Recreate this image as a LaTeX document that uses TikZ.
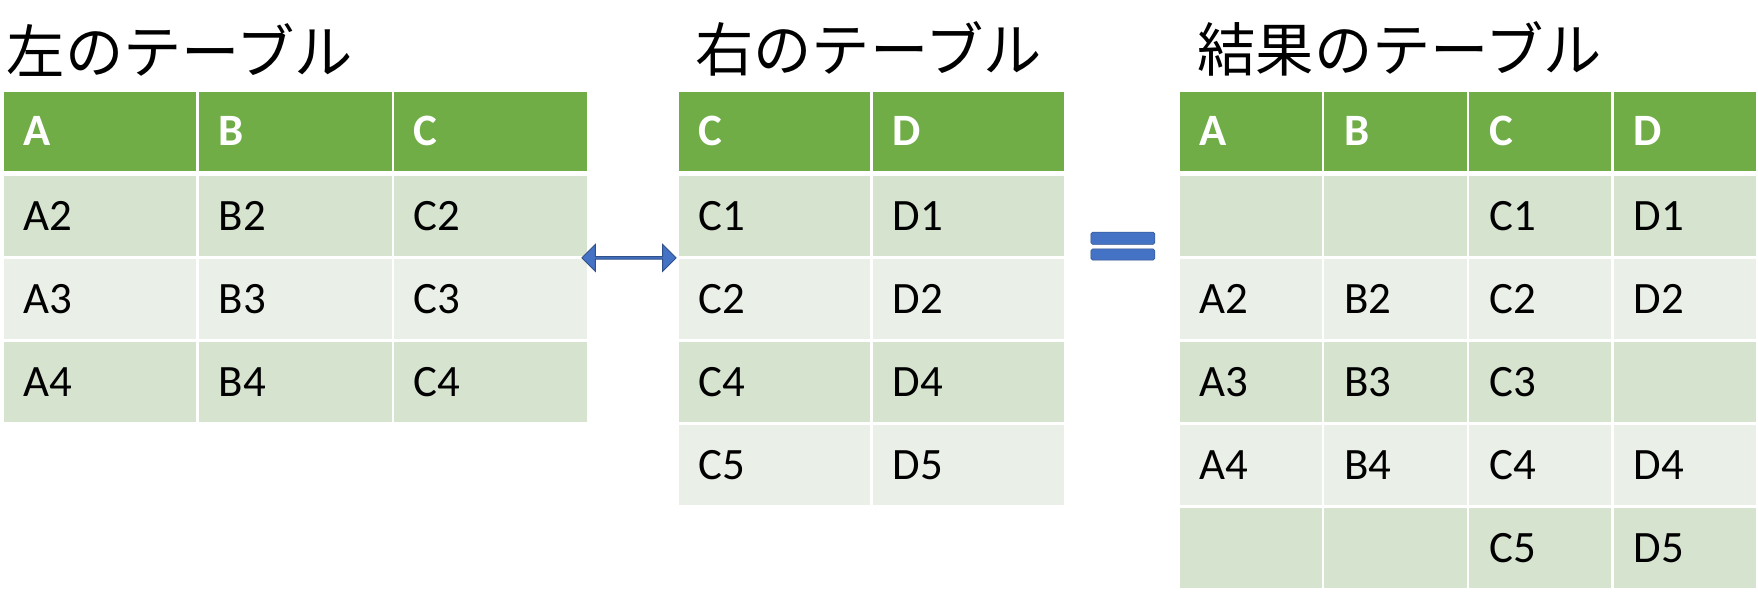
\documentclass[tikz,border=0pt]{standalone}
\usepackage{fontspec}
\setmainfont{Carlito}
\newfontfamily\jpfont{Noto Sans CJK JP}[Scale=1]
\usetikzlibrary{shapes.arrows}
\definecolor{hdgreen}{HTML}{70AD47}
\definecolor{rowdark}{HTML}{D5E3CF}
\definecolor{rowlight}{HTML}{EAF0E7}
\definecolor{arrblue}{HTML}{4472C4}
\tikzset{
  cell/.style 2 args={anchor=north west, inner sep=0pt, inner xsep=18pt,
    minimum width=#1, text width=#1-36pt, minimum height=#2, align=left,
    font=\fontsize{40}{44}\selectfont},
  head/.style={fill=hdgreen, text=white, font=\fontsize{40}{44}\selectfont\bfseries},
  ttl/.style={anchor=south west, inner sep=0pt, font=\jpfont\fontsize{52}{56}\selectfont},
}
% one table: #1 name, #2 left x, #3 cell width, #4 header list, #5 rows
\newcommand{\jtable}[5]{%
  \foreach \t [count=\c from 0] in {#4}
    \node[cell={#3pt}{70pt}, head] (#1-0-\c) at ({#2+\c*(#3+2)}, 82) {\t};
  \foreach \row [count=\r] in {#5} {
    \ifodd\r \def\rc{rowdark}\else\def\rc{rowlight}\fi
    \foreach \t [count=\c from 0] in \row
      \node[cell={#3pt}{71pt}, fill=\rc] (#1-\r-\c) at ({#2+\c*(#3+2)}, {157+(\r-1)*74}) {\t};
  }}
\begin{document}
\begin{tikzpicture}[x=1pt,y=-1pt]
\useasboundingbox (0,0) rectangle (1568,528);
% titles
\node[ttl] (lt) at (6,68) {左のテーブル};
\node[ttl] (mt) at (620,68) {右のテーブル};
\node[ttl] (rt) at (1068,68) {結果のテーブル};
% tables
\jtable{L}{3}{172}{A,B,C}{{A2,B2,C2},{A3,B3,C3},{A4,B4,C4}}
\jtable{M}{605}{171}{C,D}{{C1,D1},{C2,D2},{C4,D4},{C5,D5}}
\jtable{R}{1052}{127}{A,B,C,D}{{{},{},C1,D1},{A2,B2,C2,D2},{A3,B3,C3,{}},{A4,B4,C4,D4},{{},{},C5,D5}}
% join arrow and equals sign
\node[double arrow, fill=arrblue, draw=arrblue!70!black, line width=0.8pt,
  minimum width=24pt, double arrow head extend=4pt, minimum height=84pt,
  inner sep=0pt] (join) at (561,230) {};
\fill[arrblue, draw=arrblue!70!black, rounded corners=1.5pt] (973,207) rectangle (1030,218);
\fill[arrblue, draw=arrblue!70!black, rounded corners=1.5pt] (973,222) rectangle (1030,232);
\end{tikzpicture}
\end{document}
